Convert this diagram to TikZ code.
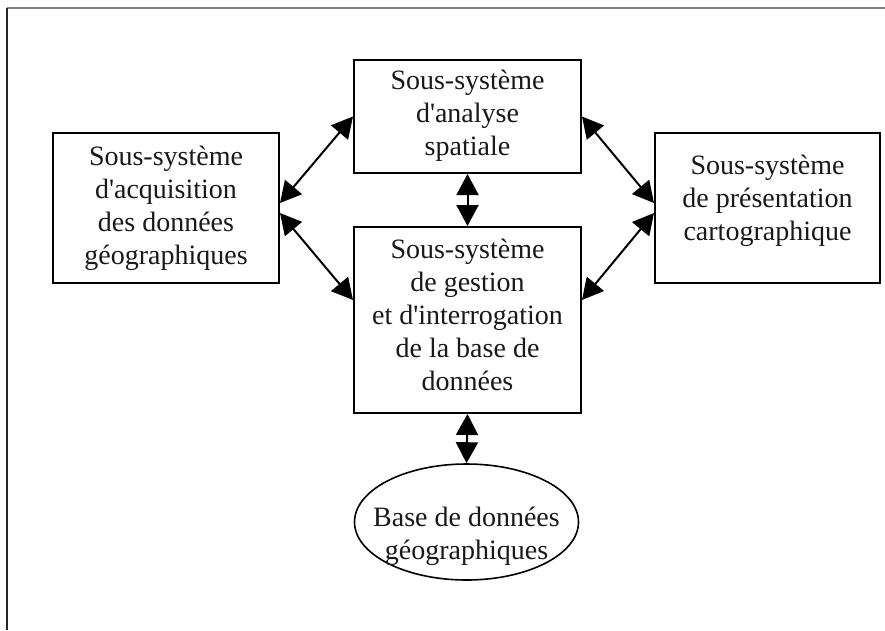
\documentclass[tikz,border=0pt]{standalone}
\usepackage{fontspec}
\setmainfont{Liberation Serif}
\usetikzlibrary{arrows.meta,shapes.geometric}
\newcommand{\ap}{\textquotesingle}
\begin{document}
\begin{tikzpicture}[x=1pt,y=-1pt,
  box/.style={draw=black,line width=2pt,rectangle,inner sep=0pt},
  oval/.style={draw=black,line width=1.6pt,ellipse,inner sep=0pt},
  txt/.style={align=center,inner sep=0pt,font=\fontsize{28pt}{33pt}\selectfont,text=black!90},
  dbl/.style={line width=2pt,{Triangle[length=21pt,width=22pt]}-{Triangle[length=21pt,width=22pt]}}]
\useasboundingbox (0,0) rectangle (885,630);
\fill[white] (0,0) rectangle (885,630);
% frame
\coordinate (fa) at (7,8);
\coordinate (fb) at (885,8);
\coordinate (fc) at (7,630);
\draw[gray,line width=1.3pt] (fa) -- (fb);
\draw[black!85,line width=1.4pt] (fa) -- (fc);
% boxes
\node[box,minimum width=227pt,minimum height=113pt] (T) at (467.5,116.5) {};
\node[box,minimum width=227pt,minimum height=186pt] (M) at (467.5,320) {};
\node[box,minimum width=226pt,minimum height=150pt] (L) at (166,208) {};
\node[box,minimum width=225pt,minimum height=150pt] (R) at (767.5,208) {};
\node[oval,minimum width=224pt,minimum height=116pt] (E) at (466.5,522) {};
% texts
\node[txt] (tT) at (467.5,116) {Sous-système\\d\ap analyse\\spatiale};
\node[txt] (tM) at (467.5,315) {Sous-système\\de gestion\\et d\ap interrogation\\de la base de\\données};
\node[txt] (tL) at (166,208) {Sous-système\\d\ap acquisition\\des données\\géographiques};
\node[txt] (tR) at (767.5,201) {Sous-système\\de présentation\\cartographique};
\node[txt] (tE) at (466.5,536) {Base de données\\géographiques};
% connectors
\draw[dbl] ([yshift=5pt]L.east) -- (T.west);
\draw[dbl] ([yshift=-5pt]L.east) -- ([yshift=20pt]M.west);
\draw[dbl] (T.east) -- ([yshift=5pt]R.west);
\draw[dbl] ([yshift=-5pt]R.west) -- ([yshift=20pt]M.east);
\draw[dbl] (T.south) -- (M.north);
\draw[dbl] (M.south) -- (E.north);
\end{tikzpicture}
\end{document}
